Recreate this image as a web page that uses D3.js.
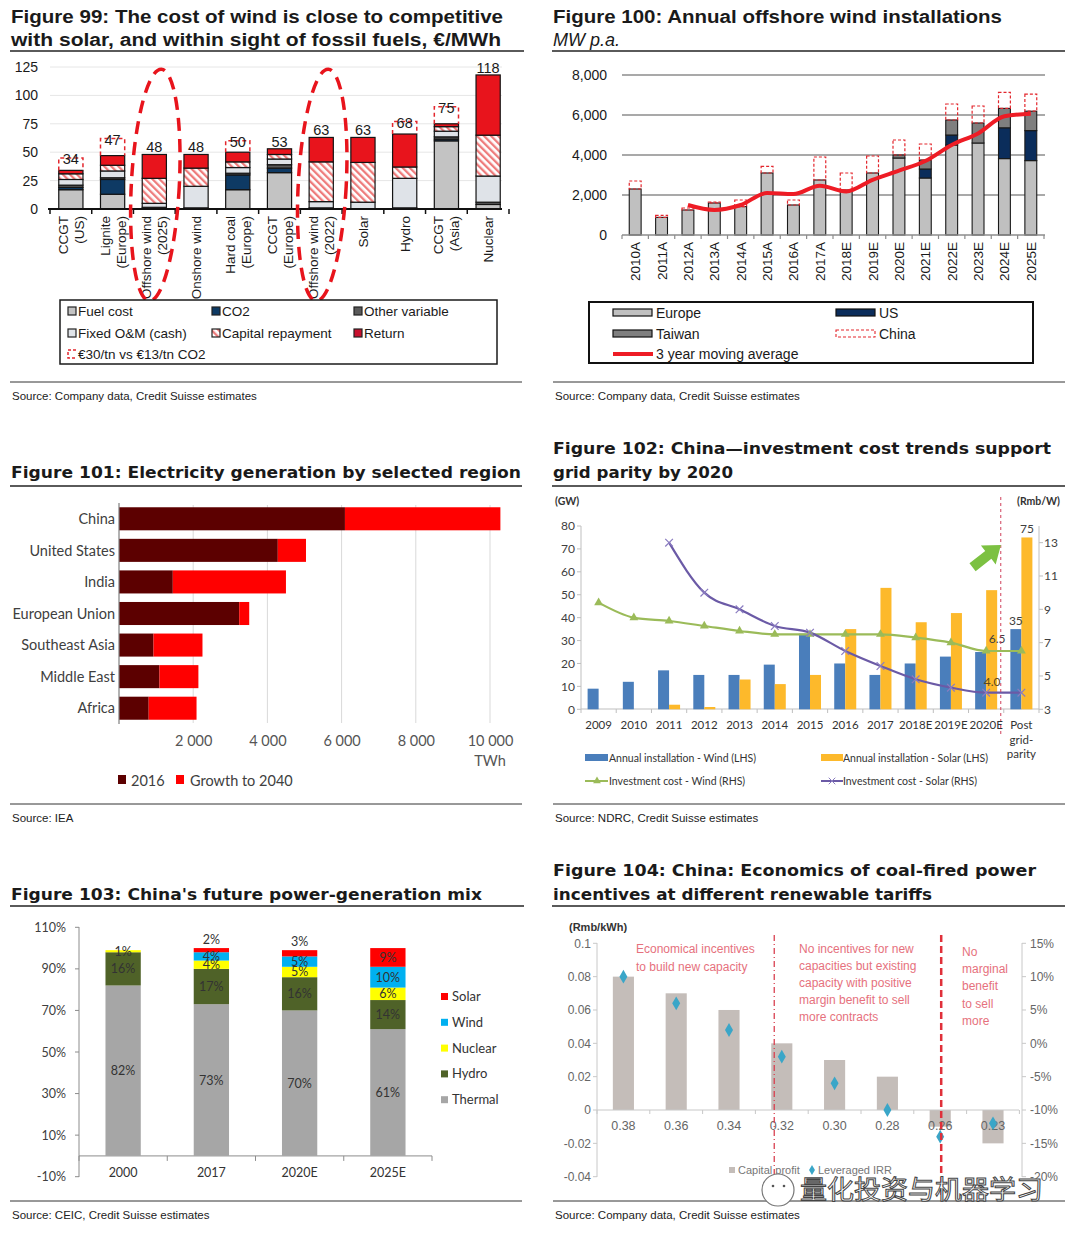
<!DOCTYPE html>
<html>
  <head>
    <meta charset="utf-8">
    <style>
      body { margin: 0; background: #fff; }
    </style>
    <title>Power generation charts</title>
  </head>
  <body>

  <div id="viz-wrapper"></div>

  <script src="https://cdnjs.cloudflare.com/ajax/libs/d3/7.8.5/d3.min.js" charset="utf-8"></script>
  <script type="text/javascript">

  // ---- Figure 99: cost stack, EUR/MWh
  var costCats    = ['CCGT\n(US)', 'Lignite\n(Europe)', 'Offshore wind\n(2025)', 'Onshore wind', 'Hard coal\n(Europe)', 'CCGT\n(Europe)', 'Offshore wind\n(2022)', 'Solar', 'Hydro', 'CCGT\n(Asia)', 'Nuclear'];
  var costFuel    = [17, 13, 0, 0, 17, 32, 0, 0, 0, 60, 4];
  var costCO2     = [2, 13, 0, 0, 13, 4, 0, 0, 0, 1.5, 0];
  var costOther   = [2, 1.5, 1.5, 1, 1.5, 3, 1, 0, 1, 2, 2];
  var costFixed   = [5, 6, 3.5, 19, 5, 5, 5.5, 6, 26, 5, 23];
  var costCapital = [5, 5, 22, 16, 5, 4, 35, 35, 10, 4, 36];
  var costReturn  = [3, 8.5, 21, 12, 8.5, 5, 21.5, 22, 29, 2.5, 53];
  var costCO2High = [11, 15, 0, 0, 10, 0, 0, 0, 11, 15, 0];   // extra at EUR30/tn
  var costLabels  = [34, 47, 48, 48, 50, 53, 63, 63, 68, 75, 118];
  var costTicks   = [0, 25, 50, 75, 100, 125];

  // ---- Figure 100: offshore installations, MW
  var instYears  = ['2010A','2011A','2012A','2013A','2014A','2015A','2016A','2017A','2018E','2019E','2020E','2021E','2022E','2023E','2024E','2025E'];
  var instEurope = [2300, 880, 1250, 1600, 1420, 3100, 1500, 2750, 2250, 3100, 3850, 2850, 4500, 4600, 3820, 3720];
  var instUS     = [0, 0, 0, 0, 0, 0, 0, 0, 0, 0, 0, 450, 500, 0, 1540, 1500];
  var instTaiwan = [0, 0, 0, 0, 0, 0, 0, 0, 0, 0, 150, 450, 750, 1000, 970, 970];
  var instChina  = [400, 100, 100, 50, 330, 330, 250, 1150, 850, 850, 750, 800, 800, 850, 800, 850];
  var instMA3    = [null, null, 1500, 1250, 1500, 2100, 2050, 2460, 2180, 2760, 3220, 3700, 4500, 5080, 5940, 6060];
  var instTicks  = [0, 2000, 4000, 6000, 8000];

  // ---- Figure 101: generation, TWh
  var regions    = ['China', 'United States', 'India', 'European Union', 'Southeast Asia', 'Middle East', 'Africa'];
  var gen2016    = [6090, 4280, 1450, 3240, 930, 1090, 800];
  var genGrowth  = [4190, 760, 3050, 270, 1320, 1050, 1290];
  var genTicks   = [2000, 4000, 6000, 8000, 10000];

  // ---- Figure 102: China installs (GW) and cost (Rmb/W)
  var cnYears    = ['2009','2010','2011','2012','2013','2014','2015','2016','2017','2018E','2019E','2020E','Post\ngrid-\nparity'];
  var windInst   = [9, 12, 17, 15, 15, 19.5, 33, 20, 15, 20, 23, 25, 35];
  var solarInst  = [0, 0, 2, 1, 13, 11, 15, 35, 53, 38, 42, 52, 75];
  var windCost   = [9.4, 8.5, 8.3, 8.0, 7.7, 7.5, 7.5, 7.5, 7.5, 7.3, 7.0, 6.5, 6.5];
  var solarCost  = [null, null, 13, 10, 9, 8, 7.6, 6.5, 5.6, 4.8, 4.3, 4.0, 4.0];
  var gwTicks    = [0, 10, 20, 30, 40, 50, 60, 70, 80];
  var rmbTicks   = [3, 5, 7, 9, 11, 13];

  // ---- Figure 103: power mix, %
  var mixYears   = ['2000', '2017', '2020E', '2025E'];
  var mixThermal = [82, 73, 70, 61];
  var mixHydro   = [16, 17, 16, 14];
  var mixNuclear = [1, 4, 5, 6];
  var mixWind    = [0, 4, 5, 10];
  var mixSolar   = [0, 2, 3, 9];
  var mixTicks   = [-10, 10, 30, 50, 70, 90, 110];

  // ---- Figure 104: coal economics vs tariff
  var tariffs    = ['0.38', '0.36', '0.34', '0.32', '0.30', '0.28', '0.26', '0.23'];
  var capProfit  = [0.08, 0.07, 0.06, 0.04, 0.03, 0.02, -0.01, -0.02];
  var levIRR     = [10, 6, 2, -2, -6, -10, -14, -12];
  var profTicks  = [-0.04, -0.02, 0, 0.02, 0.04, 0.06, 0.08, 0.1];
  var irrTicks   = [-20, -15, -10, -5, 0, 5, 10, 15];


  var ARIAL = '"Liberation Sans", Arial, sans-serif';
  var CALI  = 'Lato, "Open Sans", sans-serif';
  var VERD  = '"DejaVu Sans", Verdana, sans-serif';

  var svg = d3.select('#viz-wrapper').append('svg')
              .attr('width', 1080).attr('height', 1237)
              .style('display', 'block');
  svg.append('rect').attr('width', 1080).attr('height', 1237).attr('fill', '#fff');

  var defs = svg.append('defs');
  var hatch = defs.append('pattern').attr('id', 'hatch')
                  .attr('patternUnits', 'userSpaceOnUse')
                  .attr('width', 5).attr('height', 5)
                  .attr('patternTransform', 'rotate(-45)');
  hatch.append('rect').attr('width', 5).attr('height', 5).attr('fill', '#fff');
  hatch.append('rect').attr('width', 2.3).attr('height', 5).attr('fill', '#ee7b7b');

  function txt(g, x, y, s, size, o) {
    o = o || {};
    var t = g.append('text').attr('x', x).attr('y', y).text(s)
             .style('font-family', o.font || ARIAL)
             .style('font-size', size + 'px')
             .attr('fill', o.fill || '#1a1a1a')
             .attr('text-anchor', o.anchor || 'start');
    if (o.weight) t.style('font-weight', o.weight);
    if (o.italic) t.style('font-style', 'italic');
    if (o.len) t.attr('textLength', o.len).attr('lengthAdjust', 'spacingAndGlyphs');
    return t;
  }

  function hline(g, x1, x2, y, col, w) {
    return g.append('line').attr('x1', x1).attr('x2', x2).attr('y1', y).attr('y2', y)
            .attr('stroke', col).attr('stroke-width', w || 1);
  }
  function vline(g, x, y1, y2, col, w) {
    return g.append('line').attr('x1', x).attr('x2', x).attr('y1', y1).attr('y2', y2)
            .attr('stroke', col).attr('stroke-width', w || 1);
  }

  function header(x0, x1, lines, lineY, font, size) {
    lines.forEach(function(l) {
      txt(svg, x0 + 1, l.y, l.s, size, {font: font, weight: l.italic ? 'normal' : 'bold', italic: l.italic, len: l.len});
    });
    hline(svg, x0, x1, lineY, '#5a5a5a', 2);
  }
  function footer(x0, x1, y, s) {
    hline(svg, x0, x1, y, '#333', 1);
    txt(svg, x0 + 2, y + 18, s, 11.5, {fill: '#222'});
  }

  // strip an axis down to its labels
  function styleAxis(sel, font, size, fill) {
    sel.select('.domain').remove();
    sel.selectAll('.tick line').remove();
    sel.selectAll('text').style('font-family', font).style('font-size', size + 'px').attr('fill', fill);
  }

  // ================= Figure 99 =================
  header(10, 524, [
    {s: 'Figure 99: The cost of wind is close to competitive', y: 23, len: 492},
    {s: 'with solar, and within sight of fossil fuels, \u20ac/MWh', y: 46, len: 490}
  ], 51, ARIAL, 18);

  var g1 = svg.append('g');
  var x1 = d3.scaleBand().domain(d3.range(costCats.length)).range([50, 509]).paddingInner(0.42).paddingOuter(0.21);
  var y1 = d3.scaleLinear().domain([0, 125]).range([209, 67]);

  g1.selectAll('line.grid').data(costTicks.slice(1)).enter().append('line')
    .attr('x1', 50).attr('x2', 502)
    .attr('y1', function(d) { return y1(d); }).attr('y2', function(d) { return y1(d); })
    .attr('stroke', '#e6e6e6');

  g1.append('g').attr('transform', 'translate(40,0)')
    .call(d3.axisLeft(y1).tickValues(costTicks).tickSize(0).tickPadding(2))
    .call(styleAxis, ARIAL, 14, '#1a1a1a');

  var costKeys = ['fuel', 'co2', 'other', 'fixed', 'capital', 'ret'];
  var costFill = {fuel: '#c3c3c3', co2: '#0e3a64', other: '#5a5a5a', fixed: '#dfe3e8', capital: 'url(#hatch)', ret: '#e8141c'};
  var costRows = costCats.map(function(c, i) {
    return {i: i, fuel: costFuel[i], co2: costCO2[i], other: costOther[i], fixed: costFixed[i], capital: costCapital[i], ret: costReturn[i]};
  });
  var costTotals = costRows.map(function(r) { return d3.sum(costKeys, function(k) { return r[k]; }); });

  g1.selectAll('g.layer').data(d3.stack().keys(costKeys)(costRows)).enter().append('g')
    .attr('fill', function(d) { return costFill[d.key]; })
    .selectAll('rect').data(function(d) { return d.filter(function(s) { return s[1] - s[0] > 0; }); })
    .enter().append('rect')
    .attr('x', function(d) { return x1(d.data.i); })
    .attr('width', x1.bandwidth())
    .attr('y', function(d) { return y1(d[1]); })
    .attr('height', function(d) { return y1(d[0]) - y1(d[1]); })
    .attr('stroke', '#141414').attr('stroke-width', 1.2);

  // dashed brackets for the EUR30/tn CO2 case
  g1.selectAll('path.bracket').data(d3.range(costCats.length).filter(function(i) { return costCO2High[i] > 0; }))
    .enter().append('path')
    .attr('d', function(i) {
      var l = x1(i), r = l + x1.bandwidth(), b = y1(costTotals[i]), t = y1(costTotals[i] + costCO2High[i]);
      return 'M' + l + ',' + b + 'V' + t + 'H' + r + 'V' + b;
    })
    .attr('fill', 'none').attr('stroke', '#e3262d').attr('stroke-width', 1.5).attr('stroke-dasharray', '4,3');

  costLabels.forEach(function(v, i) {
    var yy = costCO2High[i] > 0 ? y1(costTotals[i] + costCO2High[i]) + 6 : y1(costTotals[i]) - 2;
    txt(g1, x1(i) + x1.bandwidth() / 2, yy, v, 14.5, {anchor: 'middle'});
  });

  hline(g1, 48, 502, 209, '#111', 2);
  d3.range(costCats.length + 1).forEach(function(i) {
    var bx = 50 + i * x1.step();
    vline(g1, bx, 209, 214, '#111', 1.5);
  });

  costCats.forEach(function(c, i) {
    var lines = c.split('\n');
    var gg = g1.append('g').attr('transform', 'translate(' + (x1(i) + x1.bandwidth() / 2) + ',216) rotate(-90)');
    lines.forEach(function(l, k) {
      var dy = lines.length === 1 ? 5 : (k === 0 ? -3 : 13);
      txt(gg, 0, dy, l, 13.5, {anchor: 'end'});
    });
  });

  // legend
  var lg1 = svg.append('g');
  lg1.append('rect').attr('x', 60).attr('y', 300).attr('width', 437).attr('height', 64)
     .attr('fill', '#fff').attr('stroke', '#1a1a1a').attr('stroke-width', 1.5);
  var leg1 = [
    {s: 'Fuel cost', f: costFill.fuel, c: 0, r: 0}, {s: 'CO2', f: costFill.co2, c: 1, r: 0}, {s: 'Other variable', f: costFill.other, c: 2, r: 0},
    {s: 'Fixed O&M (cash)', f: costFill.fixed, c: 0, r: 1}, {s: 'Capital repayment', f: costFill.capital, c: 1, r: 1}, {s: 'Return', f: '#c8102e', c: 2, r: 1}
  ];
  var legCols = [68, 212, 354], legRows = [316, 338, 359];
  leg1.forEach(function(d) {
    lg1.append('rect').attr('x', legCols[d.c]).attr('y', legRows[d.r] - 9).attr('width', 8).attr('height', 8)
       .attr('fill', d.f).attr('stroke', '#222').attr('stroke-width', 1.2);
    txt(lg1, legCols[d.c] + 10, legRows[d.r], d.s, 13.5);
  });
  lg1.append('path').attr('d', 'M76,' + (legRows[2] - 9) + 'H68V' + (legRows[2] - 1) + 'H76')
     .attr('fill', 'none').attr('stroke', '#e3262d').attr('stroke-width', 1.5).attr('stroke-dasharray', '3,2');
  txt(lg1, 78, legRows[2], '\u20ac30/tn vs \u20ac13/tn CO2', 13.5);

  // dashed ellipses around offshore wind
  [costCats.indexOf('Offshore wind\n(2025)'), costCats.indexOf('Offshore wind\n(2022)')].forEach(function(i) {
    var cx = x1(i) + x1.bandwidth() / 2 + 1;
    g1.append('ellipse').attr('cx', cx).attr('cy', 185).attr('rx', 24).attr('ry', 116)
      .attr('transform', 'rotate(3,' + cx + ',185)')
      .attr('fill', 'none').attr('stroke', '#e8141c').attr('stroke-width', 3.5).attr('stroke-dasharray', '13,8');
  });

  footer(10, 522, 382, 'Source: Company data, Credit Suisse estimates');

  // ================= Figure 100 =================
  header(552, 1065, [
    {s: 'Figure 100: Annual offshore wind installations', y: 23, len: 449},
    {s: 'MW p.a.', y: 46, italic: true}
  ], 51, ARIAL, 18);

  var g2 = svg.append('g');
  var x2 = d3.scaleBand().domain(instYears).range([622, 1044]).paddingInner(0.55).paddingOuter(0.275);
  var y2 = d3.scaleLinear().domain([0, 8000]).range([235, 75]);

  g2.selectAll('line.grid').data(instTicks.slice(1)).enter().append('line')
    .attr('x1', 622).attr('x2', 1045)
    .attr('y1', function(d) { return y2(d); }).attr('y2', function(d) { return y2(d); })
    .attr('stroke', '#8c8c8c').attr('stroke-width', 1.5);

  g2.append('g').attr('transform', 'translate(609,0)')
    .call(d3.axisLeft(y2).tickValues(instTicks).tickFormat(d3.format(',')).tickSize(0).tickPadding(2))
    .call(styleAxis, ARIAL, 14, '#1a1a1a');

  var instKeys = ['europe', 'us', 'taiwan'];
  var instFill = {europe: '#c0c0c0', us: '#0b2d5b', taiwan: '#7f7f7f'};
  var instRows = instYears.map(function(y, i) { return {y: y, europe: instEurope[i], us: instUS[i], taiwan: instTaiwan[i]}; });

  g2.selectAll('g.layer').data(d3.stack().keys(instKeys)(instRows)).enter().append('g')
    .attr('fill', function(d) { return instFill[d.key]; })
    .selectAll('rect').data(function(d) { return d.filter(function(s) { return s[1] - s[0] > 0; }); })
    .enter().append('rect')
    .attr('x', function(d) { return x2(d.data.y); })
    .attr('width', x2.bandwidth())
    .attr('y', function(d) { return y2(d[1]); })
    .attr('height', function(d) { return y2(d[0]) - y2(d[1]); })
    .attr('stroke', '#1a1a1a').attr('stroke-width', 1.1);

  g2.selectAll('rect.china').data(instRows).enter().append('rect')
    .attr('x', function(d) { return x2(d.y); })
    .attr('width', x2.bandwidth())
    .attr('y', function(d, i) { return y2(d.europe + d.us + d.taiwan + instChina[i]); })
    .attr('height', function(d, i) { return y2(d.europe + d.us + d.taiwan) - y2(d.europe + d.us + d.taiwan + instChina[i]); })
    .attr('fill', 'none').attr('stroke', '#e3262d').attr('stroke-width', 1.2).attr('stroke-dasharray', '3,2');

  hline(g2, 622, 1045, 235, '#8c8c8c', 1.5);
  d3.range(instYears.length + 1).forEach(function(i) {
    vline(g2, 622 + i * x2.step(), 235, 239, '#8c8c8c', 1.2);
  });

  var maLine = d3.line()
    .defined(function(d) { return d.v != null; })
    .x(function(d) { return x2(d.y) + x2.bandwidth() / 2; })
    .y(function(d) { return y2(d.v); })
    .curve(d3.curveMonotoneX);
  g2.append('path').datum(instYears.map(function(y, i) { return {y: y, v: instMA3[i]}; }))
    .attr('d', maLine).attr('fill', 'none').attr('stroke', '#ee1c25').attr('stroke-width', 4);

  instYears.forEach(function(y) {
    var gg = g2.append('g').attr('transform', 'translate(' + (x2(y) + x2.bandwidth() / 2 + 5) + ',242) rotate(-90)');
    txt(gg, 0, 0, y, 13.5, {anchor: 'end'});
  });

  var lg2 = svg.append('g');
  lg2.append('rect').attr('x', 589).attr('y', 302).attr('width', 444).attr('height', 61)
     .attr('fill', '#fff').attr('stroke', '#111').attr('stroke-width', 2);
  [{s: 'Europe', f: instFill.europe, x: 613, y: 318}, {s: 'US', f: instFill.us, x: 836, y: 318}, {s: 'Taiwan', f: instFill.taiwan, x: 613, y: 339}]
    .forEach(function(d) {
      lg2.append('rect').attr('x', d.x).attr('y', d.y - 9).attr('width', 39).attr('height', 7)
         .attr('fill', d.f).attr('stroke', '#111').attr('stroke-width', 1.2);
      txt(lg2, d.x + 43, d.y, d.s, 14);
    });
  lg2.append('rect').attr('x', 836).attr('y', 330).attr('width', 39).attr('height', 7)
     .attr('fill', 'none').attr('stroke', '#e3262d').attr('stroke-width', 1.1).attr('stroke-dasharray', '3,2');
  txt(lg2, 879, 339, 'China', 14);
  hline(lg2, 613, 653, 354, '#ee1c25', 4);
  txt(lg2, 656, 359, '3 year moving average', 14);

  footer(553, 1065, 382, 'Source: Company data, Credit Suisse estimates');

  // ================= Figure 101 =================
  header(10, 522, [
    {s: 'Figure 101: Electricity generation by selected region', y: 478, len: 510}
  ], 486, VERD, 16);

  var g3 = svg.append('g');
  var x3 = d3.scaleLinear().domain([0, 10000]).range([119, 490]);
  var y3 = d3.scaleBand().domain(regions).range([503, 724]).paddingInner(0.27).paddingOuter(0.135);

  g3.selectAll('line.grid').data(genTicks).enter().append('line')
    .attr('x1', function(d) { return x3(d); }).attr('x2', function(d) { return x3(d); })
    .attr('y1', 505).attr('y2', 723).attr('stroke', '#d9d9d9');

  var genRows = regions.map(function(r, i) { return {r: r, base: gen2016[i], growth: genGrowth[i]}; });
  var genFill = {base: '#5c0000', growth: '#ff0000'};
  g3.selectAll('g.layer').data(d3.stack().keys(['base', 'growth'])(genRows)).enter().append('g')
    .attr('fill', function(d) { return genFill[d.key]; })
    .selectAll('rect').data(function(d) { return d; }).enter().append('rect')
    .attr('x', function(d) { return x3(d[0]); })
    .attr('width', function(d) { return x3(d[1]) - x3(d[0]); })
    .attr('y', function(d) { return y3(d.data.r); })
    .attr('height', y3.bandwidth());

  vline(g3, 119, 503, 724, '#7f7f7f', 1.2);

  g3.append('g').attr('transform', 'translate(115,0)')
    .call(d3.axisLeft(y3).tickSize(0).tickPadding(0))
    .call(styleAxis, CALI, 14.5, '#404040');
  g3.selectAll('text').attr('dy', '0.36em');

  g3.append('g').attr('transform', 'translate(0,736)')
    .call(d3.axisBottom(x3).tickValues(genTicks).tickSize(0).tickPadding(0)
           .tickFormat(function(d) { return d3.format(',')(d).replace(',', ' '); }))
    .call(styleAxis, CALI, 14.5, '#555');
  txt(g3, x3(10000), 766, 'TWh', 14.5, {font: CALI, fill: '#555', anchor: 'middle'});

  g3.append('rect').attr('x', 118).attr('y', 775).attr('width', 8).attr('height', 9).attr('fill', genFill.base);
  txt(g3, 131, 786, '2016', 14.5, {font: CALI, fill: '#404040'});
  g3.append('rect').attr('x', 176).attr('y', 775).attr('width', 8).attr('height', 9).attr('fill', genFill.growth);
  txt(g3, 190, 786, 'Growth to 2040', 14.5, {font: CALI, fill: '#404040'});

  footer(10, 522, 804, 'Source: IEA');

  // ================= Figure 102 =================
  header(552, 1065, [
    {s: 'Figure 102: China\u2014investment cost trends support', y: 454, len: 498},
    {s: 'grid parity by 2020', y: 478, len: 180}
  ], 486, VERD, 16);

  var g4 = svg.append('g');
  var x4 = d3.scaleBand().domain(cnYears).range([581, 1039]);
  var x4s = d3.scaleBand().domain(['wind', 'solar']).range([0, x4.bandwidth()]).paddingInner(0).paddingOuter(0.6);
  var yL = d3.scaleLinear().domain([0, 80]).range([709.3, 526]);
  var yR = d3.scaleLinear().domain([3, 14]).range([709.3, 526]);

  vline(g4, 581, 526, 709, '#bfbfbf');
  vline(g4, 1039, 526, 709, '#bfbfbf');
  hline(g4, 581, 1039, 709, '#bfbfbf');
  gwTicks.forEach(function(t) { hline(g4, 577, 581, yL(t), '#bfbfbf'); });
  rmbTicks.forEach(function(t) { hline(g4, 1039, 1043, yR(t), '#bfbfbf'); });
  d3.range(cnYears.length + 1).forEach(function(i) { vline(g4, 581 + i * x4.step(), 709, 713, '#bfbfbf'); });

  g4.append('g').attr('transform', 'translate(575,0)')
    .call(d3.axisLeft(yL).tickValues(gwTicks).tickSize(0).tickPadding(0))
    .call(styleAxis, CALI, 12, '#404040');
  g4.append('g').attr('transform', 'translate(1044,0)')
    .call(d3.axisRight(yR).tickValues(rmbTicks).tickSize(0).tickPadding(0))
    .call(styleAxis, CALI, 12, '#404040');

  txt(g4, 555, 505, '(GW)', 10.5, {font: CALI, weight: 'bold', fill: '#333'});
  txt(g4, 1060, 505, '(Rmb/W)', 10.5, {font: CALI, weight: 'bold', fill: '#333', anchor: 'end'});

  var cnRows = cnYears.map(function(y, i) { return {y: y, wind: windInst[i], solar: solarInst[i], wc: windCost[i], sc: solarCost[i]}; });
  var cnFill = {wind: '#4a7ebb', solar: '#fdb92b'};
  ['wind', 'solar'].forEach(function(k) {
    g4.selectAll('rect.' + k).data(cnRows.filter(function(d) { return d[k] > 0; })).enter().append('rect')
      .attr('x', function(d) { return x4(d.y) + x4s(k); })
      .attr('width', x4s.bandwidth())
      .attr('y', function(d) { return yL(d[k]); })
      .attr('height', function(d) { return yL(0) - yL(d[k]); })
      .attr('fill', cnFill[k]);
  });

  var costLine = function(key) {
    return d3.line()
      .defined(function(d) { return d[key] != null; })
      .x(function(d) { return x4(d.y) + x4.bandwidth() / 2; })
      .y(function(d) { return yR(d[key]); })
      .curve(d3.curveMonotoneX);
  };
  g4.append('path').datum(cnRows).attr('d', costLine('wc'))
    .attr('fill', 'none').attr('stroke', '#9bbb59').attr('stroke-width', 2.2);
  g4.append('path').datum(cnRows).attr('d', costLine('sc'))
    .attr('fill', 'none').attr('stroke', '#6b5aa6').attr('stroke-width', 2.2);

  g4.selectAll('path.tri').data(cnRows).enter().append('path')
    .attr('d', d3.symbol().type(d3.symbolTriangle).size(34))
    .attr('transform', function(d) { return 'translate(' + (x4(d.y) + x4.bandwidth() / 2) + ',' + yR(d.wc) + ')'; })
    .attr('fill', '#9bbb59');
  g4.selectAll('path.xm').data(cnRows.filter(function(d) { return d.sc != null; })).enter().append('path')
    .attr('d', d3.symbol().type(d3.symbolX || d3.symbolCross).size(40))
    .attr('transform', function(d) { return 'translate(' + (x4(d.y) + x4.bandwidth() / 2) + ',' + yR(d.sc) + ')'; })
    .attr('fill', 'none').attr('stroke', '#8a7cc0').attr('stroke-width', 1.2);

  var post = cnRows[cnRows.length - 1], pre = cnRows[cnRows.length - 2];
  txt(g4, x4(post.y) + x4s('wind') + x4s.bandwidth() / 2, yL(post.wind) - 4, post.wind, 12, {font: CALI, fill: '#404040', anchor: 'middle'});
  txt(g4, x4(post.y) + x4s('solar') + x4s.bandwidth() / 2, yL(post.solar) - 4, post.solar, 12, {font: CALI, fill: '#404040', anchor: 'middle'});
  txt(g4, x4(pre.y) + x4.bandwidth() / 2 + 11, yR(pre.wc) - 8, d3.format('.1f')(pre.wc), 12, {font: CALI, fill: '#404040', anchor: 'middle'});
  txt(g4, x4(pre.y) + x4.bandwidth() / 2 + 6, yR(pre.sc) - 7, d3.format('.1f')(pre.sc), 12, {font: CALI, fill: '#5a4a20', anchor: 'middle'});

  // grid parity divider and arrow
  var divX = x4(post.y) - 3;
  g4.append('line').attr('x1', divX).attr('x2', divX).attr('y1', 497).attr('y2', 734)
    .attr('stroke', '#d0405a').attr('stroke-width', 1).attr('stroke-dasharray', '3,3');
  g4.append('path')
    .attr('d', 'M0,-5H20V-12L36,0L20,12V5H0Z')
    .attr('transform', 'translate(' + (x4(pre.y) + 4) + ',' + yL(62) + ') rotate(-38)')
    .attr('fill', '#7cc142');

  cnYears.forEach(function(y) {
    y.split('\n').forEach(function(l, k) {
      txt(g4, x4(y) + x4.bandwidth() / 2, 729 + k * 14.5, l, 11.5, {font: CALI, fill: '#333', anchor: 'middle'});
    });
  });

  var lg4 = svg.append('g');
  lg4.append('rect').attr('x', 585).attr('y', 754).attr('width', 23).attr('height', 7).attr('fill', cnFill.wind);
  txt(lg4, 609, 762, 'Annual installation - Wind (LHS)', 10.5, {font: CALI, fill: '#333'});
  lg4.append('rect').attr('x', 821).attr('y', 754).attr('width', 22).attr('height', 7).attr('fill', cnFill.solar);
  txt(lg4, 843, 762, 'Annual installation - Solar (LHS)', 10.5, {font: CALI, fill: '#333'});
  hline(lg4, 585, 608, 781, '#9bbb59', 2);
  lg4.append('path').attr('d', d3.symbol().type(d3.symbolTriangle).size(26)).attr('transform', 'translate(597,781)').attr('fill', '#9bbb59');
  txt(lg4, 609, 785, 'Investment cost - Wind (RHS)', 10.5, {font: CALI, fill: '#333'});
  hline(lg4, 821, 843, 781, '#6b5aa6', 2);
  lg4.append('path').attr('d', d3.symbol().type(d3.symbolX || d3.symbolCross).size(30)).attr('transform', 'translate(832,781)')
     .attr('fill', 'none').attr('stroke', '#8a7cc0');
  txt(lg4, 843, 785, 'Investment cost - Solar (RHS)', 10.5, {font: CALI, fill: '#333'});

  footer(553, 1065, 804, 'Source: NDRC, Credit Suisse estimates');

  // ================= Figure 103 =================
  header(10, 524, [
    {s: "Figure 103: China's future power-generation mix", y: 900, len: 471}
  ], 906, VERD, 16);

  var g5 = svg.append('g');
  var x5 = d3.scaleBand().domain(mixYears).range([79, 432]).paddingInner(0.6).paddingOuter(0.3);
  var y5 = d3.scaleLinear().domain([-10, 110]).range([1176.7, 927.3]);

  vline(g5, 79, 927, 1177, '#8c8c8c');
  mixTicks.forEach(function(t) { hline(g5, 75, 79, y5(t), '#8c8c8c'); });
  hline(g5, 79, 432, y5(0), '#8c8c8c');
  d3.range(mixYears.length + 1).forEach(function(i) { vline(g5, 79 + i * x5.step(), y5(0), y5(0) + 5, '#8c8c8c'); });

  g5.append('g').attr('transform', 'translate(66,0)')
    .call(d3.axisLeft(y5).tickValues(mixTicks).tickSize(0).tickPadding(0).tickFormat(function(d) { return d + '%'; }))
    .call(styleAxis, CALI, 12.5, '#404040');
  g5.append('g').attr('transform', 'translate(0,1168)')
    .call(d3.axisBottom(x5).tickSize(0).tickPadding(0))
    .call(styleAxis, CALI, 12.5, '#333');

  var mixKeys = ['thermal', 'hydro', 'nuclear', 'wind', 'solar'];
  var mixFill = {thermal: '#a6a6a6', hydro: '#4f6228', nuclear: '#ffff00', wind: '#00b0f0', solar: '#ff0000'};
  var mixName = {thermal: 'Thermal', hydro: 'Hydro', nuclear: 'Nuclear', wind: 'Wind', solar: 'Solar'};
  var mixRows = mixYears.map(function(y, i) {
    return {y: y, thermal: mixThermal[i], hydro: mixHydro[i], nuclear: mixNuclear[i], wind: mixWind[i], solar: mixSolar[i]};
  });
  var mixStack = d3.stack().keys(mixKeys)(mixRows);

  mixStack.forEach(function(layer) {
    layer.forEach(function(d) {
      var v = d[1] - d[0];
      if (v <= 0) return;
      var cx = x5(d.data.y) + x5.bandwidth() / 2;
      g5.append('rect').attr('x', x5(d.data.y)).attr('width', x5.bandwidth())
        .attr('y', y5(d[1])).attr('height', y5(d[0]) - y5(d[1])).attr('fill', mixFill[layer.key]);
      var yy = (layer.key === 'solar' && v < 5) ? y5(d[1]) - 4 : (y5(d[0]) + y5(d[1])) / 2 + 4.5;
      g5.append('text').datum(v).attr('class', 'mixlab')
        .attr('x', cx).attr('y', yy).attr('text-anchor', 'middle').text(v + '%');
    });
  });
  g5.selectAll('text.mixlab').raise().style('font-family', CALI).style('font-size', '12.5px').attr('fill', '#333');

  mixKeys.slice().reverse().forEach(function(k, i) {
    var ly = 1000 + i * 25.8;
    g5.append('rect').attr('x', 441).attr('y', ly - 7).attr('width', 7).attr('height', 7).attr('fill', mixFill[k]);
    txt(g5, 452, ly + 1, mixName[k], 13, {font: CALI, fill: '#333'});
  });

  footer(10, 522, 1201, 'Source: CEIC, Credit Suisse estimates');

  // ================= Figure 104 =================
  header(552, 1065, [
    {s: 'Figure 104: China: Economics of coal-fired power', y: 876, len: 483},
    {s: 'incentives at different renewable tariffs', y: 900, len: 379}
  ], 906, VERD, 16);

  var g6 = svg.append('g');
  var x6 = d3.scaleBand().domain(tariffs).range([597, 1019.4]).paddingInner(0.6).paddingOuter(0.3);
  var yP = d3.scaleLinear().domain([-0.04, 0.1]).range([1176.7, 943.3]);
  var yI = d3.scaleLinear().domain([-20, 15]).range([1176.7, 943.3]);

  vline(g6, 597, 943, 1177, '#c8c8c8');
  vline(g6, 1022, 943, 1177, '#c8c8c8');
  profTicks.forEach(function(t) { hline(g6, 593, 597, yP(t), '#c8c8c8'); });
  irrTicks.forEach(function(t) { hline(g6, 1022, 1026, yI(t), '#c8c8c8'); });

  g6.append('g').attr('transform', 'translate(591,0)')
    .call(d3.axisLeft(yP).tickValues(profTicks).tickSize(0).tickPadding(0)
           .tickFormat(function(d) { return String(+d.toFixed(2)); }))
    .call(styleAxis, ARIAL, 12, '#666');
  g6.append('g').attr('transform', 'translate(1030,0)')
    .call(d3.axisRight(yI).tickValues(irrTicks).tickSize(0).tickPadding(0)
           .tickFormat(function(d) { return d + '%'; }))
    .call(styleAxis, ARIAL, 12, '#666');
  txt(g6, 569, 931, '(Rmb/kWh)', 11, {weight: 'bold', fill: '#333'});

  g6.selectAll('rect.bar').data(tariffs).enter().append('rect')
    .attr('x', function(d) { return x6(d); })
    .attr('width', x6.bandwidth())
    .attr('y', function(d, i) { return yP(Math.max(0, capProfit[i])); })
    .attr('height', function(d, i) { return Math.abs(yP(capProfit[i]) - yP(0)); })
    .attr('fill', '#c4bdb9');

  hline(g6, 597, 1019, yP(0), '#c8c8c8');
  d3.range(tariffs.length + 1).forEach(function(i) { vline(g6, 597 + i * x6.step(), yP(0), yP(0) + 4, '#c8c8c8'); });

  tariffs.forEach(function(t) {
    txt(g6, x6(t) + x6.bandwidth() / 2, 1130, t, 12.5, {fill: '#666', anchor: 'middle'});
  });

  g6.selectAll('path.irr').data(tariffs).enter().append('path')
    .attr('d', d3.symbol().type(d3.symbolDiamond).size(55))
    .attr('transform', function(d, i) { return 'translate(' + (x6(d) + x6.bandwidth() / 2) + ',' + yI(levIRR[i]) + ')'; })
    .attr('fill', '#3aa6c8');

  var cut1 = x6('0.32') + 3, cut2 = x6('0.26') + x6.bandwidth() / 2 + 1;
  g6.append('line').attr('x1', cut1).attr('x2', cut1).attr('y1', 935).attr('y2', 1195)
    .attr('stroke', '#d94050').attr('stroke-width', 1.3).attr('stroke-dasharray', '6,3,1,3');
  g6.append('line').attr('x1', cut2).attr('x2', cut2).attr('y1', 935).attr('y2', 1195)
    .attr('stroke', '#e0303a').attr('stroke-width', 2.5).attr('stroke-dasharray', '7,4');

  var noteCol = '#e6717d';
  ['Economical incentives', 'to build new capacity'].forEach(function(s, k) {
    txt(g6, 636, 953 + k * 17.5, s, 12, {fill: noteCol});
  });
  ['No incentives for new', 'capacities but existing', 'capacity with positive', 'margin benefit to sell', 'more contracts'].forEach(function(s, k) {
    txt(g6, 799, 953 + k * 17, s, 12, {fill: noteCol});
  });
  ['No', 'marginal', 'benefit', 'to sell', 'more'].forEach(function(s, k) {
    txt(g6, 962, 956 + k * 17.2, s, 12, {fill: noteCol});
  });

  g6.append('rect').attr('x', 729).attr('y', 1167).attr('width', 6).attr('height', 6).attr('fill', '#c4bdb9');
  txt(g6, 738, 1174, 'Capital profit', 11, {fill: '#777'});
  g6.append('path').attr('d', d3.symbol().type(d3.symbolDiamond).size(30)).attr('transform', 'translate(812,1170)').attr('fill', '#3aa6c8');
  txt(g6, 818, 1174, 'Leveraged IRR', 11, {fill: '#777'});

  footer(553, 1065, 1201, 'Source: Company data, Credit Suisse estimates');

  // watermark on top
  var wm = svg.append('g');
  wm.append('circle').attr('cx', 778).attr('cy', 1190).attr('r', 16).attr('fill', '#fff').attr('stroke', '#777').attr('stroke-width', 1.2);
  wm.append('circle').attr('cx', 773).attr('cy', 1186).attr('r', 1.3).attr('fill', '#555');
  wm.append('circle').attr('cx', 784).attr('cy', 1186).attr('r', 1.3).attr('fill', '#555');
  wm.append('text').attr('x', 800).attr('y', 1199).text('\u91cf\u5316\u6295\u8d44\u4e0e\u673a\u5668\u5b66\u4e60')
    .style('font-family', '"Noto Sans CJK SC", sans-serif').style('font-size', '26px')
    .attr('fill', '#fff').attr('stroke', '#444').attr('stroke-width', 1)
    .attr('textLength', 243).attr('lengthAdjust', 'spacingAndGlyphs');

  </script>
  </body>
</html>
